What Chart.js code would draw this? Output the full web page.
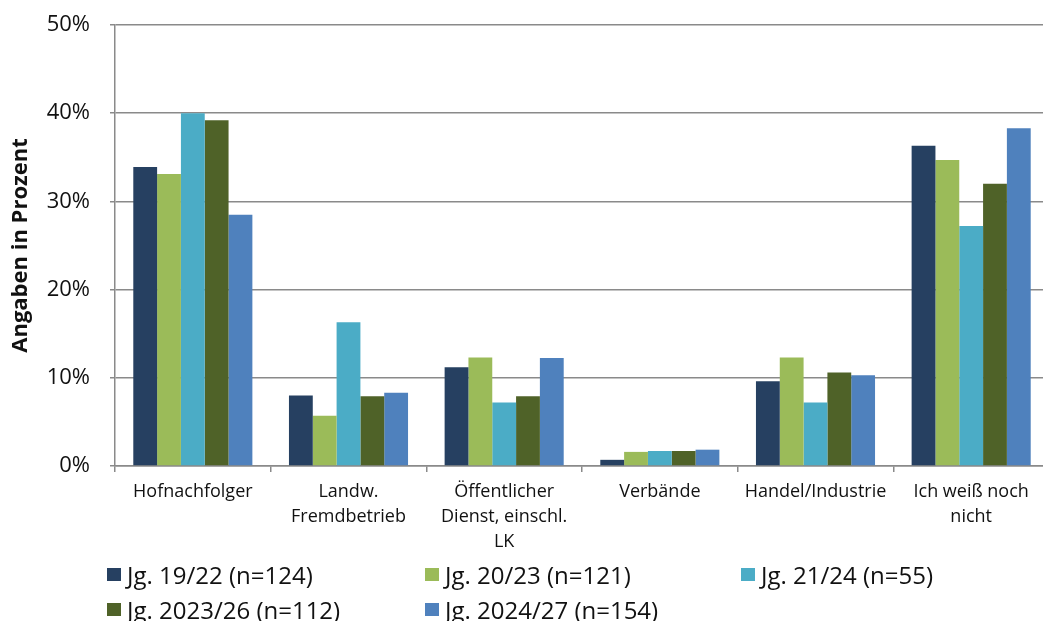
<!DOCTYPE html>
<html>
<head>
<meta charset="utf-8">
<script src="https://cdn.jsdelivr.net/npm/chart.js@4"></script>
<style>
  html, body { margin: 0; padding: 0; background: #fff; overflow: hidden; }
  #wrap { position: relative; width: 1060px; height: 621px; }
  #data_chart { position: absolute; left: 0; top: 0; }
  .legend { position: absolute; left: 0; top: 0; font-family: "Open Sans", sans-serif; font-size: 24px; color: #111; }
  .legend div { position: absolute; white-space: nowrap; display: flex; align-items: center; }
  .legend span.box { display: inline-block; width: 14px; height: 13px; margin-right: 6px; }
</style>
</head>
<body>
<div id="wrap">
  <canvas id="data_chart" width="1060" height="621"></canvas>
  <div class="legend" id="legend"></div>
</div>
<script>
// categories (multi-line x labels)
var categories = [
    ['Hofnachfolger'],
    ['Landw.', 'Fremdbetrieb'],
    ['Öffentlicher', 'Dienst, einschl.', 'LK'],
    ['Verbände'],
    ['Handel/Industrie'],
    ['Ich weiß noch', 'nicht']
];

var seriesNames = ['Jg. 19/22 (n=124)', 'Jg. 20/23 (n=121)', 'Jg. 21/24 (n=55)', 'Jg. 2023/26 (n=112)', 'Jg. 2024/27 (n=154)'];
var seriesColors = ['#264061', '#9BBB59', '#4BACC6', '#4F6228', '#4F81BD'];

// values in percent
var jg1922 = [33.9, 8.0, 11.2, 0.7, 9.6, 36.3];
var jg2023 = [33.1, 5.7, 12.3, 1.6, 12.3, 34.7];
var jg2124 = [40.0, 16.3, 7.2, 1.7, 7.2, 27.2];
var jg202326 = [39.2, 7.9, 7.9, 1.7, 10.6, 32.0];
var jg202427 = [28.5, 8.3, 12.25, 1.85, 10.3, 38.3];

var yTicks = [0, 10, 20, 30, 40, 50];

var allSeries = [jg1922, jg2023, jg2124, jg202326, jg202427];
var gridColor = '#8a8a8a';
var fontFam = '"Open Sans", "Liberation Sans", sans-serif';

var chart = new Chart('data_chart', {
    type: 'bar',
    data: {
        labels: categories,
        datasets: allSeries.map((vals, i) => ({
            label: seriesNames[i],
            data: vals,
            backgroundColor: seriesColors[i],
            borderWidth: 0,
            categoryPercentage: 0.765,
            barPercentage: 1.0
        }))
    },
    options: {
        responsive: false,
        animation: false,
        layout: { padding: { top: 25, right: 11, bottom: 65, left: 0 } },
        plugins: {
            legend: { display: false },
            tooltip: { enabled: false }
        },
        scales: {
            x: {
                afterFit: s => { s.height = 90; },
                border: { display: true, color: gridColor, width: 1.5 },
                grid: { drawOnChartArea: false, drawTicks: true, tickLength: 6, color: gridColor, lineWidth: 1.5 },
                ticks: {
                    color: '#111',
                    font: { family: fontFam, size: 18, lineHeight: 1.39 },
                    padding: 7,
                    maxRotation: 0,
                    autoSkip: false
                }
            },
            y: {
                min: 0,
                max: 50,
                // keep the tick padding from pushing the plot area down
                afterFit: s => { s.width = 115; s.paddingTop = 12; s.paddingBottom = 12; },
                afterBuildTicks: s => { s.ticks = yTicks.map(v => ({ value: v })); },
                border: { display: true, color: gridColor, width: 1.5 },
                grid: { color: gridColor, lineWidth: 1.5, tickLength: 5 },
                ticks: {
                    color: '#111',
                    font: { family: fontFam, size: 22 },
                    padding: 20,
                    callback: v => v + '%'
                },
                title: {
                    display: true,
                    text: 'Angaben in Prozent',
                    color: '#111',
                    font: { family: fontFam, size: 22, weight: 'bold' },
                    padding: { top: 8, bottom: 0 }
                }
            }
        }
    }
});

// legend in a 3-column grid like the original
var legendPos = [[107, 574], [425, 574], [741, 574], [107, 609], [425, 609]];
var legendEl = document.getElementById('legend');
seriesNames.forEach((name, i) => {
    var item = document.createElement('div');
    item.style.left = legendPos[i][0] + 'px';
    item.style.top = (legendPos[i][1] - 16) + 'px';
    item.style.height = '32px';
    item.innerHTML = '<span class="box" style="background:' + seriesColors[i] + '"></span>' + name;
    legendEl.appendChild(item);
});
</script>
</body>
</html>
